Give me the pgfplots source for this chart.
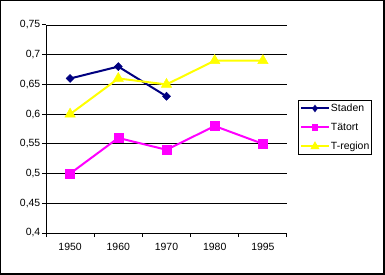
\documentclass[border=0pt]{standalone}
\usepackage{pgfplots}
\pgfplotsset{compat=1.18}
\usepackage{fontspec}
\setmainfont{Liberation Sans}
\definecolor{cnavy}{RGB}{0,0,128}
\definecolor{cmag}{RGB}{255,0,255}
\definecolor{cyel}{RGB}{255,255,0}
\begin{document}
\begin{tikzpicture}
\useasboundingbox (0,0) rectangle (385bp,275bp);
\fill[white] (0,0) rectangle (385bp,275bp);
\draw[line width=1bp] (0.5bp,1bp) rectangle (383bp,274.5bp);
\draw[line width=2bp] (384bp,275bp) -- (384bp,1bp) -- (0,1bp);
\begin{axis}[
  at={(46bp,42bp)}, anchor=south west,
  scale only axis, width=241bp, height=208bp,
  xmin=-0.5, xmax=4.5, ymin=0.4, ymax=0.75,
  axis x line*=bottom, axis y line*=left,
  axis line style={line width=1bp},
  xtick={0,1,2,3,4}, xticklabels={1950,1960,1970,1980,1995},
  major x tick style={draw=none},
  minor xtick={-0.5,0.5,1.5,2.5,3.5,4.5},
  ytick={0.4,0.45,...,0.76},
  tick align=outside, major tick length=4bp, minor tick length=4bp,
  tick style={black, line width=1bp},
  ymajorgrids, grid style={black, line width=0.8bp},
  /pgf/number format/assume math mode=true,
  /pgf/number format/use comma, /pgf/number format/fixed,
  /pgf/number format/precision=2,
  ticklabel style={font=\fontsize{10.5}{12}\selectfont},
  yticklabel style={inner sep=1.5bp},
  xticklabel style={inner sep=2bp, yshift=-4bp},
  legend style={at={(rel axis cs:1.046,0.639)}, anchor=north west,
    draw=black, line width=0.8bp, font=\fontsize{10.5}{12}\selectfont,
    inner xsep=1.5bp, inner ysep=2bp, row sep=7bp,
    nodes={inner sep=1bp, text height=8bp, text depth=2bp},
    cells={anchor=west}},
  legend image code/.code={\draw[mark repeat=2,mark phase=2,#1, mark options={scale=0.55}] plot coordinates {(0bp,0bp)(14bp,0bp)(28bp,0bp)};},
]
\addplot[cnavy, line width=2bp, mark=diamond*, mark size=4bp,
  mark options={xscale=1.33, line width=0.5bp}] coordinates {(0,0.66)(1,0.68)(2,0.63)};
\addlegendentry{Staden}
\addplot[cmag, line width=2bp, mark=square*, mark size=4.5bp,
  mark options={line width=0.5bp}] coordinates {(0,0.50)(1,0.56)(2,0.54)(3,0.58)(4,0.55)};
\addlegendentry{Tätort}
\addplot[cyel, line width=2bp, mark=triangle*, mark size=6bp,
  mark options={line width=0.5bp}] coordinates {(0,0.60)(1,0.66)(2,0.65)(3,0.69)(4,0.69)};
\addlegendentry{T-region}
\end{axis}
\end{tikzpicture}
\end{document}
